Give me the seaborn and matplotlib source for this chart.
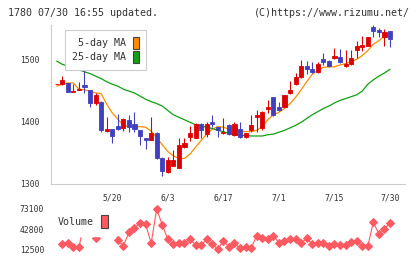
import matplotlib
matplotlib.use("Agg")
import matplotlib.pyplot as plt
from matplotlib.patches import Patch
import numpy as np
import seaborn as sns

sns.set_style("white")
plt.rcParams["font.family"] = ["DejaVu Sans Mono", "DejaVu Sans"]

# ---- data ----
DATE_LABELS = ["5/20", "6/3", "6/17", "7/1", "7/15", "7/30"]
LABEL_DAYS = [10, 20, 30, 40, 50, 60]

open_ = [1460, 1460, 1462, 1448, 1450, 1459, 1451, 1430, 1432, 1385,
         1388, 1393, 1390, 1403, 1396, 1387, 1374, 1371, 1382, 1342,
         1320, 1329, 1326, 1360, 1376, 1374, 1397, 1380, 1400, 1391,
         1381, 1395, 1379, 1389, 1375, 1387, 1408, 1390, 1420, 1440,
         1424, 1424, 1446, 1460, 1471, 1489, 1484, 1479, 1500, 1497,
         1502, 1503, 1489, 1492, 1515, 1520, 1522, 1551, 1547, 1535, 1545]
close = [1460.5, 1467, 1448, 1449, 1452, 1455, 1430, 1443, 1386, 1388,
         1377, 1388, 1405, 1392, 1389, 1377, 1371, 1381, 1341, 1321,
         1338, 1338, 1362, 1365, 1381, 1397, 1387, 1396, 1397, 1386,
         1384, 1380, 1397, 1375, 1382, 1395, 1411, 1416, 1424, 1410,
         1418, 1443, 1451, 1472, 1489, 1484, 1479, 1492, 1496, 1490,
         1505, 1495, 1493, 1502, 1521, 1523, 1535, 1545, 1543, 1544, 1533]
high = [1461, 1473, 1462, 1460, 1464, 1497, 1451, 1446, 1433, 1408,
        1389, 1412, 1406, 1410, 1415, 1387, 1374, 1407, 1383, 1343,
        1343, 1355, 1373, 1373, 1393, 1398, 1398, 1400, 1411, 1391,
        1406, 1396, 1400, 1400, 1382, 1411, 1419, 1417, 1434, 1440,
        1432, 1443, 1465, 1478, 1499, 1497, 1495, 1495, 1510, 1499,
        1518, 1517, 1515, 1515, 1529, 1537, 1536, 1555, 1550, 1549, 1546]
low = [1460, 1459, 1448, 1448, 1450, 1446, 1423, 1427, 1384, 1384,
       1366, 1387, 1385, 1384, 1384, 1363, 1356, 1370, 1340, 1313,
       1318, 1329, 1326, 1358, 1369, 1374, 1374, 1375, 1392, 1376,
       1380, 1379, 1377, 1373, 1373, 1384, 1384, 1386, 1414, 1409,
       1417, 1424, 1445, 1459, 1470, 1477, 1478, 1478, 1491, 1488,
       1501, 1494, 1488, 1491, 1502, 1513, 1521, 1535, 1535, 1521, 1520]
ma5 = [1457, 1460, 1462, 1462, 1452, 1451, 1449, 1446, 1445, 1428,
       1414, 1404, 1394, 1392, 1392, 1392, 1391, 1385, 1374, 1363,
       1352, 1345, 1341, 1341, 1348, 1359, 1370, 1380, 1388, 1392,
       1391, 1388, 1387, 1385, 1384, 1384, 1386, 1392, 1403, 1411,
       1415, 1421, 1429, 1439, 1451, 1464, 1476, 1482, 1487, 1488,
       1488, 1491, 1493, 1496, 1500, 1506, 1514, 1524, 1530, 1537, 1540]
ma25 = [1497, 1492, 1489, 1486, 1483, 1480, 1477, 1473, 1469, 1464,
        1460, 1457, 1452, 1449, 1446, 1441, 1436, 1432, 1429, 1425,
        1418, 1411, 1407, 1403, 1399, 1395, 1393, 1391, 1389, 1386,
        1384, 1381, 1379, 1378, 1378, 1377, 1377, 1377, 1379, 1380,
        1383, 1386, 1390, 1394, 1399, 1405, 1411, 1416, 1421, 1425,
        1430, 1434, 1437, 1440, 1443, 1449, 1460, 1467, 1473, 1478, 1484]
# volume starts one session later than the candles
volume = [20500, 21500, 16500, 15500, 54000, 47000, 29000, 41000, 50000, 55000,
          26500, 17500, 38000, 45000, 51600, 50600, 21500, 73100, 49100, 27500,
          20000, 22500, 22500, 27500, 19000, 19000, 27500, 20500, 12500, 25500,
          15500, 21500, 14000, 15500, 14000, 33000, 29000, 27500, 33000, 22500,
          25000, 27500, 27500, 21500, 29000, 20500, 21500, 22500, 17500, 20500,
          19000, 19000, 23000, 25000, 17500, 17500, 53100, 35500, 42600, 52600]
VOL_TICKS = [12500, 42800, 73100]

UP, DOWN = "#dd0000", "#4040c0"
MA5_C, MA25_C = "#ff8c00", "#10a010"
VOL_C = "#ff5a62"
AXC, TXT = "#cccccc", "#333333"

W, H = 420, 259
days = np.arange(len(open_))
vol_days = days[1:]
o, c = np.array(open_), np.array(close)
cols = [UP if cc >= oo else DOWN for oo, cc in zip(o, c)]

fig = plt.figure(figsize=(W / 100, H / 100), dpi=100)
ax = fig.add_axes([50.5 / W, 1 - 184 / H, (405 - 50.5) / W, (184 - 25) / H])
axv = fig.add_axes([50.5 / W, 1 - 255 / H, (405 - 50.5) / W, (255 - 203) / H])
xlim = (-1.12, 62.7)

# ---- price panel ----
sns.lineplot(x=days, y=ma5, color=MA5_C, lw=0.9, ax=ax, sort=False, estimator=None, zorder=2)
sns.lineplot(x=days, y=ma25, color=MA25_C, lw=0.9, ax=ax, sort=False, estimator=None, zorder=2)
ax.vlines(days, low, high, colors=cols, lw=0.8, zorder=3)
ax.bar(days, c - o, bottom=o, width=0.74, color=cols, edgecolor=cols, lw=0.6, zorder=4)

ax.set_xlim(*xlim)
ax.set_ylim(1300, 1555)
ax.set_yticks([1300, 1400, 1500])
ax.set_xticks(np.linspace(xlim[0], xlim[1], 12))
ax.set_xticks(LABEL_DAYS, DATE_LABELS, minor=True)
ax.tick_params(axis="x", which="major", direction="inout", length=6.5, width=0.8,
               color=AXC, labelbottom=False)
ax.tick_params(axis="x", which="minor", length=0, pad=7, labelsize=5.8, labelcolor=TXT)
ax.tick_params(axis="y", direction="inout", length=5.8, width=0.8, color=AXC,
               pad=5, labelsize=5.8, labelcolor=TXT)
ax.set_xlabel(""); ax.set_ylabel("")
for s in ["top", "right"]:
    ax.spines[s].set_visible(False)
for s in ["left", "bottom"]:
    ax.spines[s].set_color(AXC)
    ax.spines[s].set_linewidth(0.8)

leg = ax.legend(handles=[Patch(facecolor=MA5_C, edgecolor="#444444", lw=0.8),
                         Patch(facecolor=MA25_C, edgecolor="#444444", lw=0.8)],
                labels=["5-day MA", "25-day MA"], loc="upper left",
                bbox_to_anchor=(65 / W, 1 - 30 / H), bbox_transform=fig.transFigure,
                markerfirst=False, fontsize=7.2, handlelength=0.6, handleheight=1.45,
                handletextpad=0.7, labelspacing=0.23, borderpad=0.7, borderaxespad=0,
                fancybox=False, framealpha=1, edgecolor=AXC, facecolor="white")
leg.get_frame().set_linewidth(0.8)
for t in leg.get_texts():
    t.set_color(TXT)

# ---- volume panel ----
sns.lineplot(x=vol_days, y=volume, color=VOL_C, lw=0.8, marker="D", markersize=4.5,
             markeredgecolor=VOL_C, ax=axv, sort=False, estimator=None)
axv.set_xlim(*xlim)
axv.set_ylim(3930, 82120)
axv.set_xticks([])
axv.set_yticks(VOL_TICKS, [str(v) for v in VOL_TICKS])
axv.tick_params(axis="y", length=0, pad=4.7, labelsize=5.8, labelcolor=TXT)
axv.set_xlabel(""); axv.set_ylabel("")
for s in axv.spines.values():
    s.set_visible(False)
vleg = axv.legend(handles=[Patch(facecolor=VOL_C, edgecolor="#444444", lw=0.8)],
                  labels=["Volume"], loc="lower right",
                  bbox_to_anchor=(115.5 / W, 1 - 236 / H), bbox_transform=fig.transFigure,
                  markerfirst=False, fontsize=7.2, handlelength=0.67, handleheight=1.56,
                  handletextpad=0.67, borderpad=0.8, borderaxespad=0,
                  fancybox=False, framealpha=1, edgecolor="white", facecolor="white")
for t in vleg.get_texts():
    t.set_color(TXT)

# ---- header ----
fig.text(8 / W, 1 - 12.7 / H, "1780 07/30 16:55 updated.", ha="left", va="center",
         fontsize=7.2, color=TXT)
fig.text(410 / W, 1 - 12.7 / H, "(C)https://www.rizumu.net/", ha="right", va="center",
         fontsize=7.2, color=TXT)

fig.savefig("out.png", dpi=100)
plt.close(fig)
